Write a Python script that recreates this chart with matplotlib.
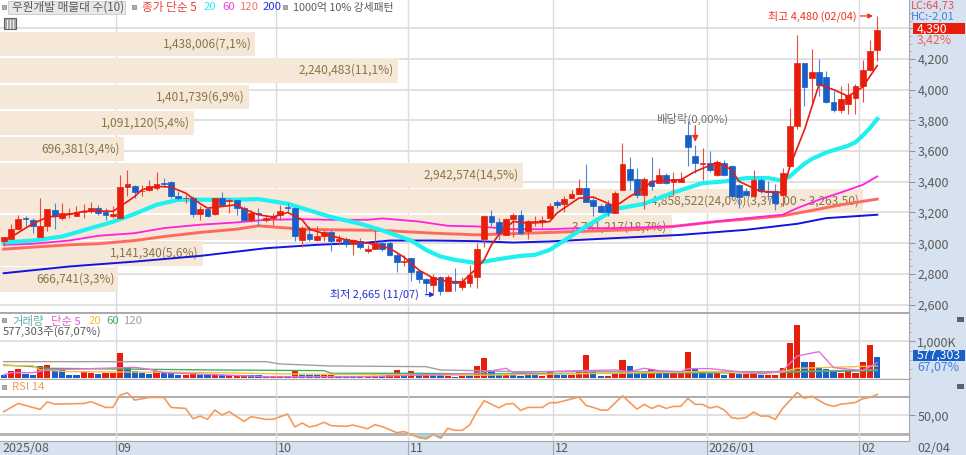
import matplotlib
matplotlib.use('Agg')
import numpy as np
import matplotlib.pyplot as plt
from matplotlib.patches import Rectangle

plt.rcParams['font.family'] = ['Noto Sans CJK KR', 'DejaVu Sans']
NARROW = ['Liberation Sans Narrow', 'Noto Sans CJK KR']

# candles, one entry per trading day
opens = [3017,3030,3091,3161,3152,3043,3109,3217,3165,3187,3174,3200,3213,3226,3204,3174,3161,3365,3374,3337,3348,3361,3391,3396,3309,3291,3296,3187,3222,3191,
         3293,3274,3278,3228,3148,3196,3154,3161,3183,3235,3226,3022,3061,3022,3048,3072,3017,3026,2996,3017,2948,2965,3004,2998,2924,2878,2902,2820,2765,2726,
         2778,2691,2754,2717,2743,2782,3030,3178,3135,3054,3156,3185,3076,3137,3139,3165,3270,3254,3291,3322,3359,3278,3239,3254,3196,3348,3483,3417,3313,3402,
         3389,3446,3400,3400,3702,3570,3517,3522,3446,3522,3504,3378,3337,3309,3413,3341,3337,3313,3504,3765,4174,4078,4115,4083,3922,3870,3904,3943,4022,4130,4257]
highs = [3039,3126,3185,3178,3163,3291,3222,3261,3261,3228,3239,3257,3265,3250,3228,3239,3446,3478,3380,3380,3413,3461,3424,3402,3337,3315,3304,3239,3235,3293,
         3330,3293,3283,3239,3217,3228,3174,3196,3250,3261,3235,3109,3113,3113,3087,3087,3052,3039,3030,3033,2989,3083,3022,3017,2935,2924,2906,2826,2772,2800,
         2787,2793,2837,2782,2859,3000,3174,3217,3163,3163,3196,3213,3152,3174,3178,3261,3283,3304,3348,3417,3517,3293,3257,3283,3337,3652,3561,3489,3428,3561,
         3489,3457,3461,3463,3793,3641,3620,3598,3543,3543,3509,3387,3359,3478,3424,3402,3387,3489,3880,4354,4174,4265,4200,4120,3989,4026,4043,4039,4191,4326,4480]
lows = [2983,3030,3091,3109,3065,3043,3076,3091,3152,3163,3174,3163,3196,3185,3148,3161,3161,3304,3293,3304,3337,3348,3374,3291,3283,3261,3170,3148,3170,3185,
        3239,3196,3185,3141,3135,3113,3141,3120,3152,3196,3011,2978,3017,3017,3017,2946,2989,2978,2924,2961,2939,2961,2952,2917,2813,2848,2756,2743,2674,2674,
        2665,2687,2691,2696,2717,2707,2974,3109,3022,3054,3039,3054,3026,3109,3104,3161,3228,3206,3291,3317,3267,3178,3196,3174,3196,3348,3348,3293,3222,3348,
        3389,3387,3304,3400,3500,3456,3409,3465,3435,3439,3300,3226,3304,3304,3326,3283,3217,3239,3500,3743,3896,3913,3961,3913,3852,3848,3839,3843,3922,4120,4185]
closes = [3039,3091,3156,3156,3109,3109,3222,3178,3196,3196,3200,3204,3226,3196,3183,3187,3365,3383,3330,3341,3374,3383,3385,3304,3291,3296,3191,3222,3178,3293,
          3248,3283,3226,3148,3196,3191,3163,3174,3209,3226,3048,3096,3026,3048,3070,3017,3026,2996,3022,2974,2965,2998,2961,2926,2874,2887,2815,2765,2743,2782,
          2691,2782,2743,2756,2793,2961,3174,3135,3065,3156,3185,3065,3143,3143,3152,3239,3250,3287,3322,3359,3267,3239,3200,3202,3324,3517,3413,3315,3417,3374,
          3441,3391,3417,3417,3626,3522,3522,3474,3530,3446,3304,3300,3311,3413,3337,3330,3261,3457,3765,4174,4017,4115,4033,3922,3870,3941,3967,4022,4130,4250,4390]

# moving averages: day index and price
ma5_days = [0,1,3,4,6,8,11,14,15,16,18,19,21,23,25,27,28,30,32,33,35,37,39,41,42,45,47,50,53,55,57,59,61,63,64,65,66,67,68,70,72,74,75,76,78,79,81,84,86,88,89,93,95,98,100,101,104,107,108,110,112,114,116,118,120]
ma5_vals = [3017,3039,3098,3126,3170,3178,3207,3209,3207,3239,3304,3348,3370,3365,3326,3257,3228,3239,3250,3222,3185,3170,3200,3152,3091,3048,3022,3000,2967,2909,2826,2772,2750,2748,2793,2837,2891,2989,3054,3141,3130,3135,3141,3196,3261,3293,3300,3239,3304,3359,3402,3413,3467,3526,3478,3402,3337,3330,3500,3739,4033,4000,3957,4017,4157]
ma20_days = [0,4,8,12,15,18,21,24,28,32,35,39,42,45,49,52,56,58,60,62,65,66,68,71,73,75,77,80,84,88,92,96,99,102,105,107,108,109,110,111,113,116,117,118,119,120]
ma20_vals = [3004,3017,3043,3098,3139,3191,3250,3283,3283,3283,3287,3257,3213,3170,3126,3083,3017,2956,2913,2891,2870,2880,2896,2917,2924,2956,3017,3109,3222,3257,3330,3391,3402,3424,3424,3407,3435,3478,3517,3548,3591,3635,3657,3700,3750,3809]
ma60_days = [0,4,9,13,18,22,27,32,36,41,45,50,52,57,61,65,70,75,79,84,92,98,102,107,109,112,115,118,120]
ma60_vals = [2989,2996,3017,3048,3065,3098,3120,3135,3152,3156,3152,3152,3161,3141,3113,3109,3091,3091,3098,3098,3109,3141,3163,3185,3228,3283,3330,3380,3435]
ma120_days = [0,4,9,13,18,22,27,32,35,41,45,52,59,65,72,79,86,92,98,102,107,111,115,120]
ma120_vals = [2961,2974,2989,2996,3017,3043,3070,3091,3113,3091,3087,3083,3065,3054,3065,3076,3087,3109,3141,3156,3178,3213,3250,3287]
ma200_days = [0,9,18,27,36,43,50,53,59,65,70,75,84,93,102,109,113,120]
ma200_vals = [2804,2848,2880,2917,2967,2989,3004,3017,3017,3013,3004,3011,3033,3054,3087,3126,3163,3185]

# volume by price bands
band_prices = [4297,4125,3953,3784,3612,3442,3274,3103,2933,2765]
band_volumes = [1438006,2240483,1401739,1091120,696381,2942574,4858522,3781217,1141340,666741]
band_labels = ['1,438,006(7,1%)','2,240,483(11,1%)','1,401,739(6,9%)','1,091,120(5,4%)','696,381(3,4%)',
               '2,942,574(14,5%)','4,858,522(24,0%)(3,373,00 ~ 3,263,50)','3,781,217(18,7%)','1,141,340(5,6%)','666,741(3,3%)']

# volume in thousands, and the colour class of each bar
volumes = [81,198,261,117,99,333,360,207,243,99,99,198,153,117,153,153,675,315,189,153,117,189,153,135,99,99,153,99,81,117,
           81,81,81,81,81,81,63,63,63,63,198,81,81,81,81,81,63,63,63,63,63,63,63,81,216,63,189,117,117,81,
           81,63,27,63,63,333,549,225,99,99,99,63,99,99,63,180,81,81,99,198,630,198,63,63,153,486,333,153,153,261,
           189,171,135,153,720,243,189,135,135,99,180,117,117,117,81,81,81,270,963,1440,432,432,288,243,171,153,207,153,432,891,577]
volume_up = [0,1,1,0,0,1,1,0,0,0,0,1,1,0,1,1,1,0,0,0,0,1,0,0,0,1,1,0,0,1,
             0,1,1,1,0,0,0,1,1,0,1,0,0,0,1,1,0,0,0,0,1,1,0,1,1,0,1,0,1,0,
             0,1,0,1,0,1,1,0,0,1,0,0,0,0,1,1,0,0,1,1,1,0,0,1,1,1,0,0,0,1,
             0,0,1,1,1,0,0,0,1,0,1,0,1,1,0,1,1,1,1,1,0,1,0,0,0,1,1,1,1,1,0]
vol5_days = [0,1,4,6,18,20,22,36,50,65,69,70,79,84,86,88,90,93,94,97,104,107,109,112,114,118,120]
vol5_vals = [90,153,153,225,297,243,153,45,45,135,270,153,207,225,180,270,207,180,261,261,117,207,603,720,288,207,423]
vol20_days = [0,4,5,9,29,39,65,97,104,107,109,120]
vol20_vals = [342,342,225,180,153,117,81,180,135,180,270,333]
vol60_days = [0,4,6,29,44,45,57,65,104,120]
vol60_vals = [360,315,270,225,207,135,135,117,153,207]
vol120_days = [0,36,38,45,58,60,65,70,107,120]
vol120_vals = [450,450,387,333,315,225,207,180,180,230]

rsi_days = [0,2,4,5,6,7,11,12,14,15,16,17,18,20,22,23,25,26,27,28,29,30,31,33,34,36,37,39,40,41,42,43,44,45,47,48,50,51,52,54,55,57,58,59,60,61,62,63,64,65,
            66,68,69,70,71,72,74,75,76,79,80,81,82,83,85,87,88,89,90,91,92,93,94,95,96,97,98,99,100,101,102,103,104,105,106,107,109,110,111,112,113,114,115,116,117,118,119,120]
rsi_vals = [53.9,62.7,58.5,56.4,64.5,62.0,62.7,64.5,58.5,58.5,71.6,74.1,66.3,69.1,69.1,58.5,57.4,46.5,49.3,45.8,55.7,50.4,53.9,43.6,48.6,45.8,45.8,51.4,37.6,41.9,37.6,39.4,42.6,39.0,38.3,39.7,35.8,40.1,38.0,31.6,32.7,26.6,25.2,29.8,25.9,36.2,34.1,34.1,39.7,53.9,
            65.6,58.1,62.0,62.7,55.3,58.5,58.5,63.5,63.5,69.5,60.6,58.5,55.7,55.7,70.9,56.7,61.7,57.4,60.6,57.4,59.6,59.6,68.1,61.7,61.7,57.8,59.6,55.7,47.5,46.5,47.9,53.5,49.3,49.3,45.8,57.4,74.4,68.1,70.5,65.9,61.7,59.6,62.0,62.7,63.8,67.7,69.1,72.3]

month_pos = [15.4,37.45,55.5,75.5,96.6,117.5]
month_labels = ['09','10','11','12','2026/01','02']

RED = '#e81e0c'
BLUE = '#1a5fc8'
GRID = '#dcdcdc'
STRIP = '#d6e2f0'
SEP = '#a8a8a8'
TICK = '#5a5a5a'
W, H = 966, 455
XLIM = (-0.504, 124.36)


def make_axes(top, bottom):
    return fig.add_axes([0, 1 - bottom / H, 909 / W, (bottom - top) / H])


def label(x, y, s, color=TICK, size=8.2, **kw):
    fig.text(x / W, 1 - y / H, s, color=color, fontsize=size, va='center', **kw)


def bullet(x, y):
    fig.patches.append(Rectangle(((x - 2) / W, 1 - (y + 2) / H), 4 / W, 4 / H, transform=fig.transFigure,
                                 fc='#b0b0b0', ec='#808080', lw=0.5, zorder=5))


def tag(y0, y1, s, fc):
    fig.patches.append(Rectangle((913 / W, 1 - y1 / H), 52 / W, (y1 - y0) / H, transform=fig.transFigure,
                                 fc=fc, ec='none', zorder=5))
    label(917, (y0 + y1) / 2, s, color='white', size=8.8, family=NARROW, zorder=6)


def axis_labels(a):
    for t in a.get_yticklabels():
        t.set_family(NARROW)


fig = plt.figure(figsize=(W / 100, H / 100), dpi=100, facecolor=STRIP)

# price panel: bands and grid go in an axes underneath the candles
ax_bg = make_axes(0, 313)
ax_bg.set_xlim(0, 5118000)
ax_bg.set_ylim(2545, 4584)
ax_bg.set_xticks([])
ax_bg.set_yticks([])
for p in range(2600, 4600, 200):
    ax_bg.axhline(p, color=GRID, lw=1.2, zorder=1)
for s in ax_bg.spines.values():
    s.set_visible(False)
ax_bg.barh(band_prices, band_volumes, height=160, color='#f5e8d8', zorder=2)
for p, v, t in zip(band_prices, band_volumes, band_labels):
    ax_bg.annotate(t, (v, p), xytext=(-4, 0), textcoords='offset pixels', ha='right', va='center',
                   color='#8a7445', fontsize=8.6, zorder=3)

ax = make_axes(0, 313)
ax.patch.set_alpha(0)
days = np.arange(len(opens))
o, h, l, c = map(np.array, (opens, highs, lows, closes))
up = c >= o
ax.plot(ma200_days, ma200_vals, color='#1414e0', lw=1.4, zorder=2)
ax.plot(ma120_days, ma120_vals, color='#ff6a60', lw=2.1, zorder=2)
ax.plot(ma60_days, ma60_vals, color='#ff20e0', lw=1.3, zorder=2)
ax.plot(ma20_days, ma20_vals, color='#1ff0f0', lw=3, zorder=2)
ax.vlines(days[up], l[up], h[up], color='#ec4a3c', lw=0.8, zorder=3)
ax.vlines(days[~up], l[~up], h[~up], color='#4a86d8', lw=0.8, zorder=3)
ax.bar(days[up], (c - o)[up], bottom=o[up], width=0.8, color=RED, ec=RED, lw=0.5, zorder=4)
ax.bar(days[~up], (o - c)[~up], bottom=c[~up], width=0.8, color=BLUE, ec=BLUE, lw=0.5, zorder=4)
ax.plot(ma5_days, ma5_vals, color='#ea1a10', lw=1.2, zorder=5)
ax.set_xlim(XLIM)
ax.set_ylim(2545, 4584)
ax.set_xticks([])
price_ticks = list(range(2600, 4600, 200))
ax.yaxis.tick_right()
ax.set_yticks(price_ticks, ['' if p == 4400 else f'{p:,}' for p in price_ticks])
ax.set_yticks(range(2600, 4550, 50), minor=True)
ax.tick_params(axis='y', which='major', length=4, width=0.7, color='#909090', labelcolor=TICK, labelsize=9, pad=2)
ax.tick_params(axis='y', which='minor', length=2, width=0.5, color='#a0a0a0')
axis_labels(ax)
for s in ('top', 'left', 'bottom'):
    ax.spines[s].set_visible(False)
ax.spines['right'].set_color(SEP)

for pos in month_pos:
    ax_bg.axvline((pos - XLIM[0]) * 5118000 / (XLIM[1] - XLIM[0]), color=GRID, lw=1, zorder=1)

ax.annotate('최고 4,480 (02/04)', (120, 4480), xytext=(-21, 0), textcoords='offset pixels', ha='right', va='center',
            color='#f03020', fontsize=7.9, zorder=6,
            arrowprops=dict(arrowstyle='-|>', color='#f03020', lw=0.9, mutation_scale=7, shrinkA=1, shrinkB=3))
ax.annotate('최저 2,665 (11/07)', (60, 2665), xytext=(-22, 0), textcoords='offset pixels', ha='right', va='center',
            color='#2030d0', fontsize=7.9, zorder=6,
            arrowprops=dict(arrowstyle='-|>', color='#2030d0', lw=0.9, mutation_scale=7, shrinkA=3, shrinkB=4))
ax.annotate('', (95, 3660), xytext=(95, 3765),
            arrowprops=dict(arrowstyle='-|>', color='#f03020', lw=0.9, mutation_scale=9, shrinkA=0, shrinkB=0), zorder=6)
ax.annotate('배당락(0,00%)', (94.6, 3812), ha='center', va='center', color='#707070', fontsize=8.2, zorder=6)

# volume panel
ax_vol = make_axes(313, 379)
vol_up = np.array(volume_up, dtype=bool)
vol = np.array(volumes)
ax_vol.axhline(1000, color=GRID, lw=1.2, zorder=1)
ax_vol.bar(days[vol_up], vol[vol_up], width=0.85, color=RED, zorder=2)
ax_vol.bar(days[~vol_up], vol[~vol_up], width=0.85, color=BLUE, zorder=2)
ax_vol.plot(vol120_days, vol120_vals, color='#a0a0a0', lw=1, zorder=3)
ax_vol.plot(vol60_days, vol60_vals, color='#40b060', lw=1, zorder=3)
ax_vol.plot(vol20_days, vol20_vals, color='#f5c040', lw=1, zorder=3)
ax_vol.plot(vol5_days, vol5_vals, color='#e070e0', lw=1, zorder=3)
ax_vol.set_xlim(XLIM)
ax_vol.set_ylim(-19, 1765)
ax_vol.set_xticks([])
ax_vol.yaxis.tick_right()
ax_vol.set_yticks([1000], ['1,000K'])
ax_vol.set_yticks(range(0, 1750, 250), minor=True)
ax_vol.tick_params(axis='y', which='major', length=4, width=0.7, color='#909090', labelcolor=TICK, labelsize=9, pad=2)
ax_vol.tick_params(axis='y', which='minor', length=2, width=0.5, color='#a0a0a0')
axis_labels(ax_vol)
ax_vol.spines['left'].set_visible(False)
ax_vol.spines['top'].set_color(SEP)
ax_vol.spines['top'].set_linewidth(1.4)
ax_vol.spines['bottom'].set_color(SEP)
ax_vol.spines['bottom'].set_linewidth(1)
ax_vol.spines['right'].set_color(SEP)

# RSI panel
ax_rsi = make_axes(380, 441)
rsi = np.array(rsi_vals)
ax_rsi.axhline(50, color=GRID, lw=1.2, zorder=1)
ax_rsi.axhline(70, color='#a0a0a0', lw=1.2, zorder=1)
ax_rsi.axhline(30, color='#b0b0b0', lw=2, zorder=1)
ax_rsi.fill_between(rsi_days, rsi, 30, where=rsi < 31, interpolate=True, color='#a0d4e4', zorder=2)
ax_rsi.plot(rsi_days, rsi, color='#f59a5a', lw=1.2, zorder=3)
ax_rsi.set_xlim(XLIM)
ax_rsi.set_ylim(22.7, 87.7)
ax_rsi.yaxis.tick_right()
ax_rsi.set_yticks([50], ['50,00'])
ax_rsi.tick_params(axis='y', length=4, width=0.7, color='#909090', labelcolor=TICK, labelsize=9, pad=2)
axis_labels(ax_rsi)
ax_rsi.set_xticks(month_pos, [''] * len(month_pos))
ax_rsi.tick_params(axis='x', length=10, width=0.8, color='#a8a8a8')
for pos, t in zip([-0.5] + month_pos, ['2025/08'] + month_labels):
    ax_rsi.annotate(t, (pos, 0), xycoords=ax_rsi.get_xaxis_transform(), xytext=(2, -7), textcoords='offset pixels',
                    ha='left', va='center', color=TICK, fontsize=9, family=NARROW, annotation_clip=False)
for s in ('top', 'left'):
    ax_rsi.spines[s].set_visible(False)
ax_rsi.spines['right'].set_color(SEP)
ax_rsi.spines['bottom'].set_color(SEP)
for a in (ax_vol, ax_rsi):
    for pos in month_pos:
        a.axvline(pos, color=GRID, lw=1, zorder=1)

# legends and tags
fig.patches.append(Rectangle((8 / W, 1 - 14 / H), 117 / W, 12.5 / H, transform=fig.transFigure,
                             fc='#e8e8e8', ec='#c8c8c8', lw=0.6, zorder=5))
bullet(4, 7)
label(12, 7.5, '우원개발 매물대 수(10)', size=8.4, zorder=6)
bullet(134, 7)
label(142, 7.5, '종가 단순 5', color='#f04040', size=8.4, zorder=6)
label(204, 7.5, '20', color='#30e8f0', zorder=6)
label(222, 7.5, '60', color='#f040e0', zorder=6)
label(240, 7.5, '120', color='#f87070', zorder=6)
label(263, 7.5, '200', color='#3030e0', zorder=6)
bullet(285, 7)
label(293, 7.5, '1000억 10% 강세패턴', size=7.8, zorder=6)
fig.patches.append(Rectangle((4 / W, 1 - 29 / H), 12 / W, 11 / H, transform=fig.transFigure,
                             fc='#a8a8a8', ec='#606060', lw=0.8, zorder=5))
for gx in (7, 10, 13):
    fig.add_artist(plt.Line2D([gx / W, gx / W], [1 - 28 / H, 1 - 20 / H], color='white', lw=0.6, zorder=6))

bullet(4, 320)
label(12, 321, '거래량', color='#58b0b0', zorder=6)
label(51, 321, '단순 5', color='#e060d0', zorder=6)
label(89, 321, '20', color='#f5c040', zorder=6)
label(106, 321, '60', color='#40b060', zorder=6)
label(124, 321, '120', color='#a0a0a0', zorder=6)
label(3, 332, '577,303주(67,07%)', zorder=6)
bullet(4, 387)
label(12, 387, 'RSI 14', color='#f59a5a', zorder=6)

label(911, 5.5, 'LC:64,73', color='#e85050', size=8, family=NARROW, zorder=6)
label(911, 17, 'HC:-2,01', color='#4080e0', size=8, family=NARROW, zorder=6)
tag(23.5, 34, '4,390', RED)
label(917, 40, '3,42%', color='#f06050', size=8.8, family=NARROW, zorder=6)
tag(349.5, 361, '577,303', BLUE)
label(917, 367, '67,07%', color='#4080e0', size=8.8, family=NARROW, zorder=6)
label(917, 448, '02/04', size=9, family=NARROW, zorder=6)
fig.patches.append(Rectangle((957 / W, 1 - 322 / H), 7 / W, 5 / H, transform=fig.transFigure, fc='#606060', zorder=5))
fig.patches.append(Rectangle((957 / W, 1 - 389 / H), 7 / W, 5 / H, transform=fig.transFigure, fc='#606060', zorder=5))

fig.savefig('out.png', dpi=100)
